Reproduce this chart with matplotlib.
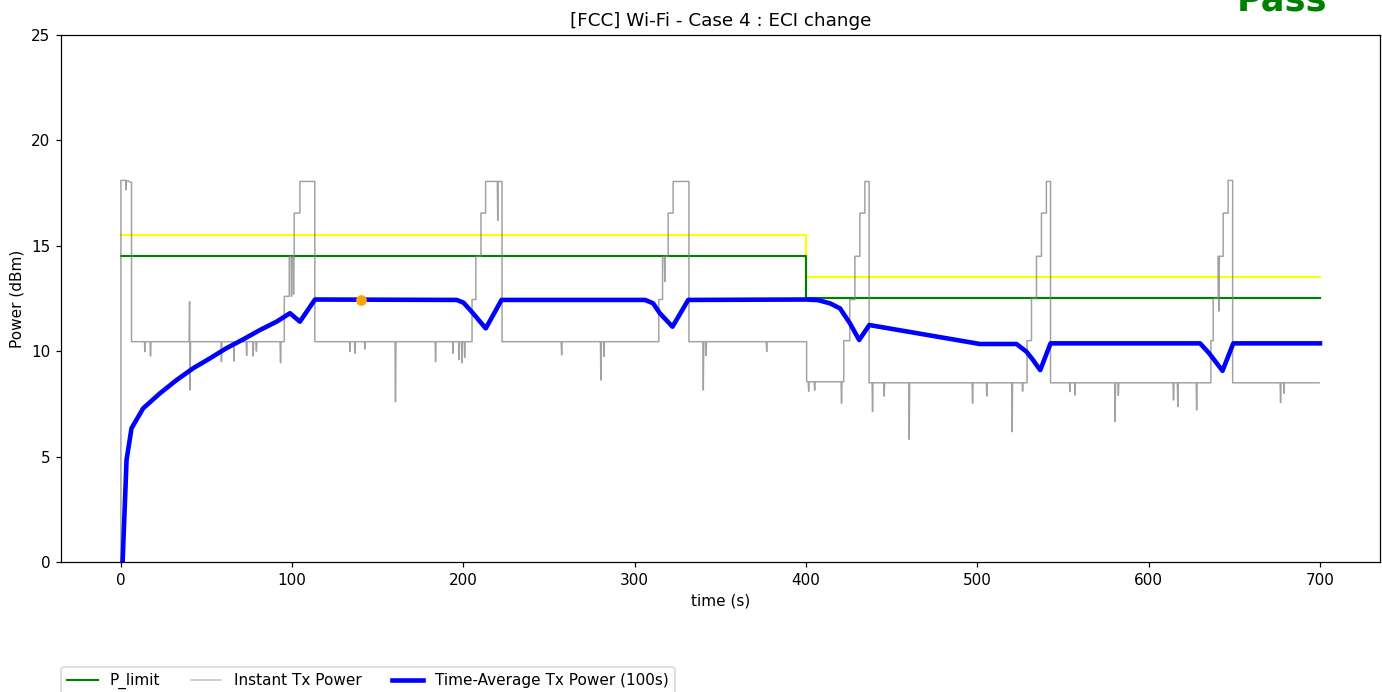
import numpy as np
import matplotlib
matplotlib.use("Agg")
import matplotlib.pyplot as plt

# power limits (yellow = upper reference, green = P_limit)
limit_t = [0, 400, 400, 700]
p_limit = [14.5, 14.5, 12.5, 12.5]
p_upper = [15.5, 15.5, 13.5, 13.5]

# instant Tx power: staircase vertices (time s, dBm)
inst_t = [0, 0, 6.2, 6.2, 95.4, 95.4, 98.3, 98.3, 101.2, 101.2, 104.5, 104.5, 113.2, 113.2,
          205, 205, 207.2, 207.2, 210.2, 210.2, 212.9, 212.9, 222.5, 222.5,
          314, 314, 316.2, 316.2, 319.5, 319.5, 322.4, 322.4, 331.6, 331.6,
          400.3, 400.3, 422, 422, 425.5, 425.5, 428.5, 428.5, 431.4, 431.4, 434.3, 434.3, 436.8, 436.8,
          529, 529, 531.6, 531.6, 534.5, 534.5, 537.4, 537.4, 540.3, 540.3, 542.7, 542.7,
          636.3, 636.3, 637.7, 637.7, 640.6, 640.6, 643.5, 643.5, 646.4, 646.4, 649, 649, 699.5]
inst_v = [0, 18.1, 18.0, 10.45, 10.45, 12.6, 12.6, 14.5, 14.5, 16.55, 16.55, 18.05, 18.05, 10.45,
          10.45, 12.45, 12.45, 14.5, 14.5, 16.55, 16.55, 18.05, 18.05, 10.45,
          10.45, 12.45, 12.45, 14.5, 14.5, 16.55, 16.55, 18.05, 18.05, 10.45,
          10.45, 8.55, 8.55, 10.5, 10.5, 12.45, 12.45, 14.5, 14.5, 16.55, 16.55, 18.05, 18.05, 8.5,
          8.5, 10.5, 10.5, 12.5, 12.5, 14.5, 14.5, 16.55, 16.55, 18.05, 18.05, 8.5,
          8.5, 10.5, 10.5, 12.5, 12.5, 14.5, 14.5, 16.55, 16.55, 18.1, 18.1, 8.5, 8.5]

# short glitches in the instant power (time s, dBm)
spike_t = [3.0, 14, 17.3, 40.1, 40.4, 58.7, 66, 73.4, 77.2, 79.1, 93.2, 99.6, 100.8,
           133.7, 136.6, 142.4, 160.3, 183.7, 193.9, 197.4, 199.1, 200.7, 220,
           257.3, 280.2, 282, 317.5, 340, 341.6, 377,
           401.5, 405, 420.7, 438.8, 445.6, 460.2, 497.2, 505.5, 520.3, 526.4,
           554, 557, 580.4, 582.3, 614.5, 617, 628, 641, 677, 679]
spike_v = [17.65, 9.98, 9.77, 12.35, 8.16, 9.5, 9.53, 9.8, 9.77, 10.0, 9.45, 12.6, 12.7,
           9.98, 9.9, 10.1, 7.6, 9.5, 9.9, 9.6, 9.45, 9.7, 16.2,
           9.82, 8.63, 9.75, 13.3, 8.16, 9.8, 9.98,
           8.1, 8.15, 7.53, 7.13, 7.87, 5.82, 7.53, 7.87, 6.18, 8.1,
           8.08, 7.92, 6.66, 7.9, 7.68, 7.37, 7.21, 11.9, 7.56, 8.0]

# time-average Tx power (100s window)
avg_t = [1, 3.3, 6.2, 13, 22.8, 32.5, 42.2, 52, 61.6, 71.4, 81.1, 90.9, 98.7, 104.5, 113.3,
         196, 200, 205, 213, 222.2, 306, 310.7, 314.6, 322, 331.2,
         400.3, 407, 413.9, 419.8, 425.6, 431, 436.9, 501.5, 522.8, 528.6, 532.5, 536.7, 542.7,
         630, 635.3, 643.1, 649.4, 700]
avg_v = [0, 4.84, 6.34, 7.29, 8.0, 8.63, 9.19, 9.66, 10.14, 10.56, 11.0, 11.4, 11.8, 11.4, 12.45,
         12.43, 12.3, 11.85, 11.08, 12.43, 12.43, 12.27, 11.8, 11.16, 12.43,
         12.45, 12.42, 12.27, 12.03, 11.32, 10.53, 11.24, 10.34, 10.34, 9.98, 9.58, 9.1, 10.37,
         10.37, 9.9, 9.07, 10.37, 10.37]

mark_t = [140]
mark_v = [12.43]

# merge glitches into the staircase
aT = list(zip(inst_t, inst_v, range(len(inst_t))))
for i, (ts, vs) in enumerate(zip(spike_t, spike_v)):
    idx = np.searchsorted(inst_t, ts, side='right') - 1
    base = inst_v[idx]
    k = len(inst_t) + 3 * i
    aT += [(ts - 0.25, base, k), (ts, vs, k + 1), (ts + 0.25, base, k + 2)]
aT.sort(key=lambda r: (r[0], r[2]))
x_inst = [r[0] for r in aT]
y_inst = [r[1] for r in aT]

dpi = 110
fig = plt.figure(figsize=(1382 / dpi, 692 / dpi), dpi=dpi)
ax = fig.add_axes([0.0441, 0.1879, 0.9544, 0.7616])

ax.plot(limit_t, p_upper, color='yellow', lw=1.4)
ax.plot(limit_t, p_limit, color='green', lw=1.4, label='P_limit')
ax.plot(x_inst, y_inst, color='gray', lw=1.0, alpha=0.5, label='Instant Tx Power')
# darker trace for the noisy flat stretches
ax.plot(x_inst, y_inst, color='gray', lw=0.8, alpha=0.45)
ax.plot(avg_t, avg_v, color='blue', lw=3, label='Time-Average Tx Power (100s)')
ax.plot(mark_t, mark_v, 'o', color='orange', markersize=6)

ax.set_ylim(0, 25)
ax.set_xlim(-35, 735)
ax.set_xlabel('time (s)')
ax.set_ylabel('Power (dBm)')
ax.set_title('[FCC] Wi-Fi - Case 4 : ECI change')

ax.legend(loc='upper left', bbox_to_anchor=(0, -0.199), ncol=3, borderaxespad=0)

fig.text(0.928, 0.9855, 'Pass', color='green', fontsize=23, fontweight='bold',
         ha='center', va='baseline')

plt.savefig('out.png', dpi=dpi)
